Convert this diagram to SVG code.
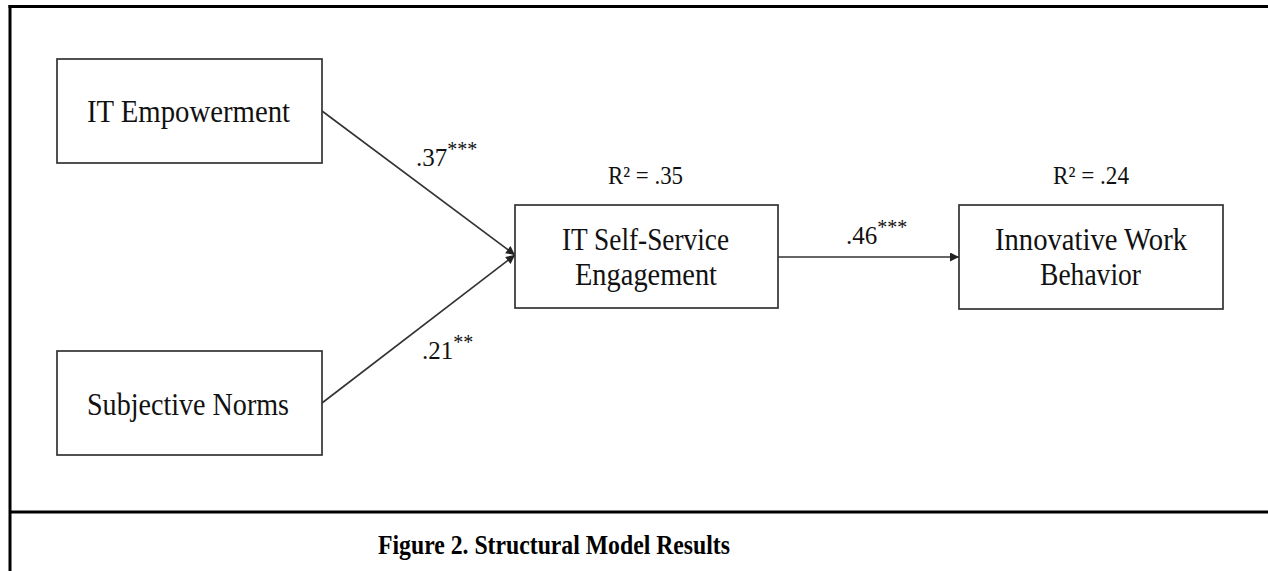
<svg xmlns="http://www.w3.org/2000/svg" width="1268" height="571" viewBox="0 0 1268 571">
<style>
.frame{stroke:#000;stroke-width:3;fill:none}
.box{fill:#fff;stroke:#333;stroke-width:1.7}
.edge{stroke:#333;stroke-width:1.6;fill:none}
.node{font-family:"Liberation Serif",serif;font-size:32px;fill:#111;text-anchor:start}
.lab{font-family:"Liberation Serif",serif;font-size:25px;fill:#111}
.sup{font-size:20px}
.cap{font-family:"Liberation Serif",serif;font-size:27px;font-weight:bold;fill:#000}
</style>
<defs>
<marker id="arr" viewBox="0 0 10 10" refX="10" refY="5" markerWidth="10" markerHeight="9" markerUnits="userSpaceOnUse" orient="auto">
<path d="M0,0 L10,5 L0,10 z" fill="#222"/>
</marker>
</defs>
<rect width="1268" height="571" fill="#fff"/>
<g id="frame">
<line class="frame" x1="10" y1="5" x2="10" y2="571"/>
<line class="frame" x1="8.5" y1="6.5" x2="1268" y2="6.5"/>
<line class="frame" x1="10" y1="512" x2="1268" y2="512"/>
</g>
<g id="connectors">
<line class="edge" x1="322" y1="111" x2="515" y2="255" marker-end="url(#arr)"/>
<line class="edge" x1="322" y1="403" x2="515" y2="255" marker-end="url(#arr)"/>
<line class="edge" x1="778" y1="257" x2="959" y2="257" marker-end="url(#arr)"/>
<text class="lab" x="416" y="166">.37<tspan class="sup" dy="-10">***</tspan></text>
<text class="lab" x="422" y="359">.21<tspan class="sup" dy="-10">**</tspan></text>
<text class="lab" x="846" y="244">.46<tspan class="sup" dy="-10">***</tspan></text>
</g>
<g id="n-empowerment">
<rect class="box" x="57" y="59" width="265" height="104"/>
<text class="node" x="87" y="122" textLength="203" lengthAdjust="spacingAndGlyphs">IT Empowerment</text>
</g>
<g id="n-norms">
<rect class="box" x="57" y="351" width="265" height="104"/>
<text class="node" x="87" y="415" textLength="202" lengthAdjust="spacingAndGlyphs">Subjective Norms</text>
</g>
<g id="n-engagement">
<text class="lab" x="608" y="184" textLength="75" lengthAdjust="spacingAndGlyphs">R² = .35</text>
<rect class="box" x="515" y="205" width="263" height="103"/>
<text class="node" x="562" y="250" textLength="167" lengthAdjust="spacingAndGlyphs">IT Self-Service</text>
<text class="node" x="575" y="285" textLength="142" lengthAdjust="spacingAndGlyphs">Engagement</text>
</g>
<g id="n-innovative">
<text class="lab" x="1053" y="184" textLength="76" lengthAdjust="spacingAndGlyphs">R² = .24</text>
<rect class="box" x="959" y="205" width="264" height="104"/>
<text class="node" x="995" y="250" textLength="192" lengthAdjust="spacingAndGlyphs">Innovative Work</text>
<text class="node" x="1040" y="285" textLength="101" lengthAdjust="spacingAndGlyphs">Behavior</text>
</g>
<g id="caption">
<text class="cap" x="378" y="554" textLength="352" lengthAdjust="spacingAndGlyphs">Figure 2. Structural Model Results</text>
</g>
</svg>
